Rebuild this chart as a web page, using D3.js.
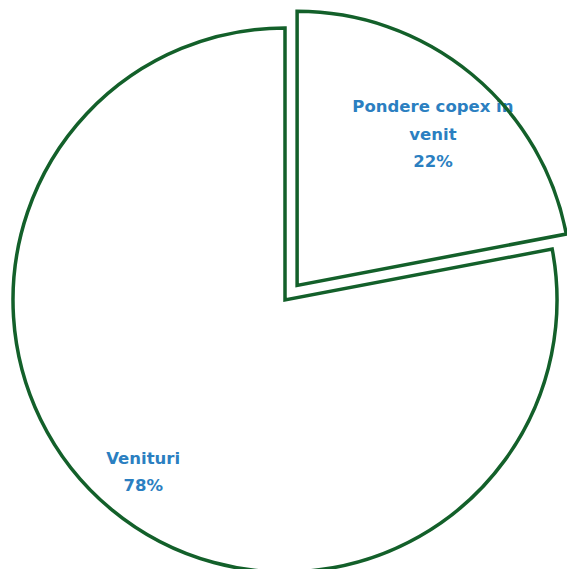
<!DOCTYPE html>
<html>
<head>
<meta charset="utf-8">
<script src="https://cdn.jsdelivr.net/npm/d3@7"></script>
<style>
  html, body { margin: 0; padding: 0; background: #fff; }
  svg { display: block; }
</style>
</head>
<body>
<svg id="chart" width="567" height="569"></svg>
<script>
// Share of capex in revenue
const categories = ["Pondere copex in venit", "Venituri"];
const values = [22, 78];
const labelLines = [["Pondere copex in", "venit", "22%"], ["Venituri", "78%"]];
const explodedIndex = 0;

const width = 567, height = 569;
const cx = 285, cy = 300;
const radius = 272, explodedRadius = 274, explode = 19;
// small per-slice label nudges (px) applied after the centroid placement
const labelNudge = [[-2, 15], [-4, 5]];

const svg = d3.select("#chart");
const pie = d3.pie().sort(null).value(d => d.value);
const arcs = pie(categories.map((c, i) => ({ name: c, value: values[i], lines: labelLines[i] })));
const arcFor = i => d3.arc().innerRadius(0).outerRadius(i === explodedIndex ? explodedRadius : radius);
const labelArc = d3.arc().innerRadius(radius * 0.795).outerRadius(radius * 0.795);

function offset(d, i) {
  if (i !== explodedIndex) return [0, 0];
  const mid = (d.startAngle + d.endAngle) / 2;
  return [Math.sin(mid) * explode, -Math.cos(mid) * explode];
}

const g = svg.selectAll("g.slice").data(arcs).join("g")
  .attr("class", "slice")
  .attr("transform", (d, i) => {
    const [dx, dy] = offset(d, i);
    return `translate(${cx + dx},${cy + dy})`;
  });

// white fill, then labels, then outlines on top
g.append("path").attr("d", (d, i) => arcFor(i)(d)).attr("fill", "#fff");

g.each(function(d, i) {
  const [x0, y0] = labelArc.centroid(d);
  const x = x0 + labelNudge[i][0], y = y0 + labelNudge[i][1];
  const n = d.data.lines.length;
  const lh = 27.5;
  const t = d3.select(this).append("text")
    .attr("text-anchor", "middle")
    .attr("font-family", "'DejaVu Sans', sans-serif")
    .attr("font-weight", "bold")
    .attr("font-size", 16.5)
    .attr("fill", "#2b7fc1");
  d.data.lines.forEach((line, k) => {
    t.append("tspan")
      .attr("x", x)
      .attr("y", y + (k - (n - 1) / 2) * lh + 6)
      .text(line);
  });
});

g.append("path").attr("d", (d, i) => arcFor(i)(d))
  .attr("fill", "none")
  .attr("stroke", "#13602a")
  .attr("stroke-width", 3.5)
  .attr("stroke-linejoin", "miter");
</script>
</body>
</html>
